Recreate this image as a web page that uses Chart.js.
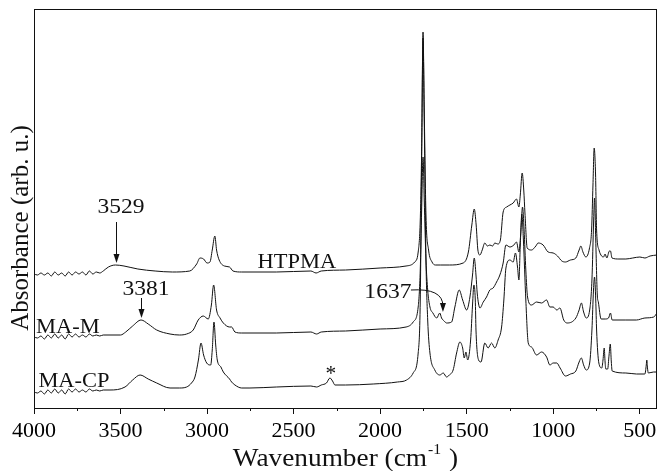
<!DOCTYPE html>
<html>
<head>
<meta charset="utf-8">
<script src="https://cdn.jsdelivr.net/npm/chart.js@4"></script>
<style>
  html, body { margin: 0; padding: 0; background: #fff; }
  #wrap { width: 663px; height: 471px; }
</style>
</head>
<body>
<div id="wrap"><canvas id="myChart" width="663" height="471"></canvas></div>
<script>
'use strict';
// x axis tick labels (wavenumber, cm-1)
var majorTicks = [4000, 3500, 3000, 2500, 2000, 1500, 1000, 500];
var minorTicks = [3750, 3250, 2750, 2250, 1750, 1250, 750];

// HTPMA (top trace)
var htpmaWn = [4000, 3980, 3960, 3940, 3920, 3900, 3880, 3860, 3840, 3820, 3800, 3780, 3760, 3740, 3720, 3700, 3680, 3660, 3640, 3620,
  3600, 3570, 3529, 3480, 3400, 3300, 3200,
  3100, 3060, 3041, 3020, 3000, 2983, 2970, 2955, 2945, 2930, 2900, 2870, 2850, 2800, 2600, 2400, 2370, 2340, 2200, 2000,
  1850, 1800, 1780, 1768, 1760, 1752, 1745, 1735, 1720, 1700, 1680, 1650, 1600, 1520, 1490, 1470, 1456, 1445, 1435, 1423,
  1410, 1395, 1380, 1366, 1350, 1337, 1320, 1305, 1289, 1269, 1250, 1231, 1212, 1198, 1190, 1179, 1170, 1163, 1150, 1125,
  1100, 1087, 1058, 1029, 1000, 975, 950, 929, 900, 869, 850, 840, 828, 811, 790, 778, 770, 763, 755, 749,
  735, 720, 709, 700, 690, 675, 669, 660, 620, 580, 540, 499, 470, 440, 400];
var htpmaAbs = [1.34, 1.33, 1.35, 1.33, 1.35, 1.32, 1.36, 1.33, 1.35, 1.32, 1.36, 1.33, 1.36, 1.34, 1.36, 1.33, 1.37, 1.34, 1.36, 1.35,
  1.37, 1.41, 1.43, 1.42, 1.39, 1.37, 1.36,
  1.37, 1.44, 1.50, 1.49, 1.45, 1.46, 1.58, 1.72, 1.58, 1.48, 1.42, 1.41, 1.37, 1.36, 1.36, 1.37, 1.35, 1.37, 1.38, 1.40,
  1.42, 1.46, 1.56, 1.88, 2.58, 3.76, 2.98, 1.93, 1.58, 1.46, 1.43, 1.43, 1.43, 1.45, 1.56, 1.83, 1.99, 1.83, 1.58, 1.53,
  1.58, 1.65, 1.62, 1.63, 1.62, 1.65, 1.64, 1.68, 1.96, 2.01, 2.03, 2.05, 2.09, 2.01, 2.13, 2.35, 2.18, 1.95, 1.60, 1.58,
  1.62, 1.65, 1.63, 1.56, 1.55, 1.52, 1.47, 1.46, 1.48, 1.50, 1.58, 1.62, 1.56, 1.51, 1.60, 1.78, 2.23, 2.60, 2.33, 1.78,
  1.58, 1.52, 1.51, 1.54, 1.50, 1.57, 1.57, 1.50, 1.49, 1.49, 1.50, 1.51, 1.50, 1.52, 1.53];

// MA-M (middle trace)
var mamWn = [4000, 3980, 3960, 3940, 3920, 3900, 3880, 3860, 3840, 3820, 3800, 3780, 3760, 3740, 3720, 3700, 3680, 3660, 3640, 3620,
  3600, 3500, 3470, 3430, 3381, 3340, 3291,
  3214, 3160, 3118, 3080, 3051, 3022, 2993, 2975, 2962, 2945, 2925, 2906, 2870, 2858, 2839, 2800, 2600, 2400, 2367, 2340,
  2200, 2000, 1850, 1809, 1780, 1768, 1760, 1752, 1745, 1735, 1725, 1712, 1695, 1673, 1655, 1645, 1630, 1616, 1587, 1568,
  1543, 1523, 1500, 1481, 1466, 1456, 1446, 1439, 1423, 1404, 1385, 1366, 1347, 1327, 1308, 1289, 1273, 1250, 1227, 1212,
  1198, 1188, 1177, 1168, 1158, 1148, 1125, 1096, 1067, 1038, 1019, 1000, 979, 961, 939, 919, 869, 850, 837, 824,
  809, 789, 776, 766, 761, 754, 745, 739, 723, 699, 680, 669, 659, 580, 519, 470, 419, 400];
var mamAbs = [0.71, 0.70, 0.72, 0.69, 0.73, 0.70, 0.74, 0.70, 0.73, 0.69, 0.74, 0.71, 0.74, 0.71, 0.73, 0.71, 0.74, 0.72, 0.73, 0.72,
  0.73, 0.73, 0.76, 0.82, 0.88, 0.84, 0.78,
  0.74, 0.73, 0.74, 0.78, 0.88, 0.92, 0.89, 1.03, 1.23, 0.98, 0.90, 0.85, 0.81, 0.81, 0.76, 0.75, 0.75, 0.76, 0.74, 0.76,
  0.77, 0.79, 0.81, 0.86, 1.01, 1.38, 1.98, 2.51, 2.08, 1.48, 1.18, 1.01, 0.95, 0.90, 0.95, 0.90, 0.87, 0.85, 0.86, 1.01,
  1.18, 1.08, 0.98, 1.11, 1.33, 1.50, 1.33, 1.15, 1.00, 1.06, 1.11, 1.18, 1.20, 1.26, 1.33, 1.45, 1.63, 1.61, 1.63, 1.66,
  1.56, 1.73, 2.01, 1.78, 1.38, 1.11, 1.03, 1.06, 1.05, 1.08, 1.01, 1.01, 0.98, 1.00, 0.88, 0.85, 0.90, 0.98, 1.05, 0.96,
  0.90, 0.98, 1.28, 1.88, 2.10, 1.68, 1.13, 1.06, 0.89, 0.89, 0.90, 0.95, 0.88, 0.88, 0.88, 0.90, 0.91, 0.95];

// MA-CP (bottom trace)
var macpWn = [4000, 3980, 3960, 3940, 3920, 3900, 3880, 3860, 3840, 3820, 3800, 3780, 3760, 3740, 3720, 3700, 3680, 3660, 3640, 3620,
  3600, 3561, 3474, 3430, 3387, 3340, 3291,
  3214, 3160, 3118, 3090, 3070, 3050, 3035, 3020, 3002, 2979, 2970, 2960, 2950, 2941, 2920, 2906, 2870, 2858, 2839, 2800,
  2752, 2600, 2400, 2367, 2340, 2310, 2290, 2275, 2261, 2200, 2040, 1900, 1847, 1809, 1780, 1768, 1760, 1752, 1745, 1735,
  1725, 1712, 1684, 1655, 1635, 1616, 1600, 1578, 1558, 1539, 1523, 1514, 1504, 1494, 1477, 1466, 1458, 1450, 1446, 1431,
  1417, 1395, 1376, 1356, 1337, 1318, 1298, 1285, 1273, 1250, 1231, 1218, 1206, 1198, 1190, 1181, 1172, 1158, 1144, 1125,
  1096, 1067, 1038, 1019, 1000, 979, 960, 929, 900, 869, 850, 837, 824, 809, 789, 776, 767, 761, 754, 749,
  736, 719, 712, 705, 700, 696, 685, 677, 670, 664, 659, 580, 519, 470, 462, 459, 455, 450, 420, 400];
var macpAbs = [0.16, 0.15, 0.17, 0.14, 0.18, 0.15, 0.19, 0.15, 0.18, 0.14, 0.19, 0.16, 0.19, 0.16, 0.18, 0.16, 0.19, 0.17, 0.18, 0.17,
  0.18, 0.18, 0.21, 0.28, 0.33, 0.29, 0.25,
  0.20, 0.20, 0.21, 0.25, 0.31, 0.48, 0.65, 0.53, 0.45, 0.43, 0.58, 0.86, 0.63, 0.48, 0.41, 0.36, 0.29, 0.26, 0.23, 0.20,
  0.20, 0.21, 0.22, 0.21, 0.23, 0.25, 0.30, 0.27, 0.23, 0.23, 0.24, 0.26, 0.28, 0.35, 0.55, 1.08, 2.48, 3.70, 2.88, 1.48,
  0.88, 0.55, 0.38, 0.33, 0.35, 0.31, 0.33, 0.38, 0.55, 0.66, 0.60, 0.50, 0.56, 0.48, 0.68, 1.03, 1.23, 1.08, 0.78, 0.48,
  0.46, 0.65, 0.60, 0.65, 0.60, 0.68, 0.81, 1.08, 1.40, 1.48, 1.46, 1.55, 1.41, 1.28, 1.63, 1.94, 1.68, 1.08, 0.65, 0.61,
  0.53, 0.56, 0.51, 0.43, 0.45, 0.45, 0.40, 0.32, 0.34, 0.37, 0.46, 0.50, 0.43, 0.38, 0.45, 0.78, 1.18, 1.31, 1.08, 0.78,
  0.45, 0.40, 0.48, 0.60, 0.46, 0.39, 0.39, 0.53, 0.64, 0.46, 0.37, 0.35, 0.34, 0.34, 0.43, 0.48, 0.40, 0.35, 0.36, 0.36];

var serif = '"Liberation Serif", "Times New Roman", serif';
var ink = '#111';

function toPoints(wn, abs) {
    return wn.map(function (x, i) { return { x: x, y: abs[i] }; });
}

function lineSet(label, wn, abs) {
    return {
        label: label,
        data: toPoints(wn, abs),
        borderColor: ink,
        borderWidth: 1,
        pointRadius: 0,
        cubicInterpolationMode: 'monotone',
        fill: false
    };
}

// text labels and arrows, placed in data units
var decor = {
    id: 'decor',
    afterDraw: function (chart) {
        var ctx = chart.ctx;
        var xs = chart.scales.x, ys = chart.scales.y;
        var a = chart.chartArea;
        var px = function (v) { return xs.getPixelForValue(v); };
        var py = function (v) { return ys.getPixelForValue(v); };

        ctx.save();
        // frame
        ctx.strokeStyle = ink;
        ctx.lineWidth = 1;
        ctx.strokeRect(Math.round(a.left) + 0.5, Math.round(a.top) + 0.5, Math.round(a.right - a.left) - 1, Math.round(a.bottom - a.top));

        // minor ticks
        ctx.beginPath();
        minorTicks.forEach(function (t) {
            var x = Math.round(px(t)) + 0.5;
            ctx.moveTo(x, a.bottom);
            ctx.lineTo(x, a.bottom + 3);
        });
        ctx.stroke();

        ctx.fillStyle = ink;
        ctx.textBaseline = 'alphabetic';
        // slightly wide lettering like the scanned figure
        function label(txt, x, y, size) {
            ctx.save();
            ctx.font = size + 'px ' + serif;
            ctx.textAlign = 'center';
            ctx.translate(x, y);
            ctx.scale(1.07, 1);
            ctx.fillText(txt, 0, 0);
            ctx.restore();
        }
        label('3529', px(3497), py(1.95), 22);
        label('3381', px(3353), py(1.13), 22);
        label('1637', px(1955), py(1.10), 22);
        label('HTPMA', px(2481), py(1.40), 21);
        label('MA-M', px(3804), py(0.75), 21);
        label('MA-CP', px(3769), py(0.21), 21);
        label('*', px(2285), py(0.28), 20);

        function head(x, y) {
            ctx.beginPath();
            ctx.moveTo(x, y);
            ctx.lineTo(x - 3, y - 9);
            ctx.lineTo(x + 3, y - 9);
            ctx.closePath();
            ctx.fill();
        }
        function vArrow(wn, y0, y1) {
            var x = Math.round(px(wn)) + 0.5;
            ctx.beginPath();
            ctx.moveTo(x, py(y0));
            ctx.lineTo(x, py(y1) - 6);
            ctx.stroke();
            head(x, py(y1));
        }
        vArrow(3529, 1.86, 1.45);
        vArrow(3381, 1.10, 0.90);

        // curved arrow for 1637
        var sx = px(1822), sy = py(1.18);
        var ex = px(1637), ey = py(0.96);
        ctx.beginPath();
        ctx.moveTo(sx, sy);
        ctx.quadraticCurveTo(ex, sy - 2, ex, ey - 6);
        ctx.stroke();
        head(ex, ey);

        // axis titles
        ctx.font = '25px ' + serif;
        ctx.textAlign = 'center';
        ctx.textBaseline = 'middle';
        ctx.save();
        ctx.translate(21, 228);
        ctx.rotate(-Math.PI / 2);
        ctx.fillText('Absorbance (arb. u.)', 0, 0);
        ctx.restore();

        ctx.textBaseline = 'alphabetic';
        ctx.textAlign = 'left';
        var main = 'Wavenumber (cm';
        var sup = '-1';
        ctx.font = '26px ' + serif;
        var w1 = ctx.measureText(main).width;
        var w3 = ctx.measureText(' )').width;
        ctx.font = '15px ' + serif;
        var w2 = ctx.measureText(sup).width + 2;
        var total = (w1 + w2 + w3) * 1.05;
        ctx.save();
        ctx.translate((a.left + a.right) / 2 - total / 2, 466);
        ctx.scale(1.05, 1);
        ctx.font = '26px ' + serif;
        ctx.fillText(main, 0, 0);
        ctx.font = '15px ' + serif;
        ctx.fillText(sup, w1 + 1, -12);
        ctx.font = '26px ' + serif;
        ctx.fillText(' )', w1 + w2, 0);
        ctx.restore();
        ctx.restore();
    }
};

var ctx = document.getElementById('myChart');
var myChart = new Chart(ctx, {
    type: 'line',
    data: {
        datasets: [
            lineSet('HTPMA', htpmaWn, htpmaAbs),
            lineSet('MA-M', mamWn, mamAbs),
            lineSet('MA-CP', macpWn, macpAbs)
        ]
    },
    options: {
        responsive: false,
        animation: false,
        devicePixelRatio: 1,
        layout: { padding: { top: 9, right: 6, left: 0, bottom: 0 } },
        plugins: {
            legend: { display: false },
            tooltip: { enabled: false }
        },
        scales: {
            x: {
                type: 'linear',
                reverse: true,
                min: 400,
                max: 4000,
                afterBuildTicks: function (scale) {
                    scale.ticks = majorTicks.map(function (v) { return { value: v }; });
                },
                afterFit: function (scale) { scale.height = 63; },
                grid: {
                    display: true,
                    drawOnChartArea: false,
                    drawTicks: true,
                    tickLength: 6,
                    color: ink
                },
                border: { display: false },
                ticks: {
                    autoSkip: false,
                    maxRotation: 0,
                    padding: 4,
                    color: '#000',
                    font: { family: serif, size: 22 },
                    callback: function (value) { return String(value); }
                }
            },
            y: {
                min: 0,
                max: 3.99,
                afterFit: function (scale) { scale.width = 34; },
                grid: { display: false },
                border: { display: false },
                ticks: { display: false }
            }
        }
    },
    plugins: [decor]
});
</script>
</body>
</html>
